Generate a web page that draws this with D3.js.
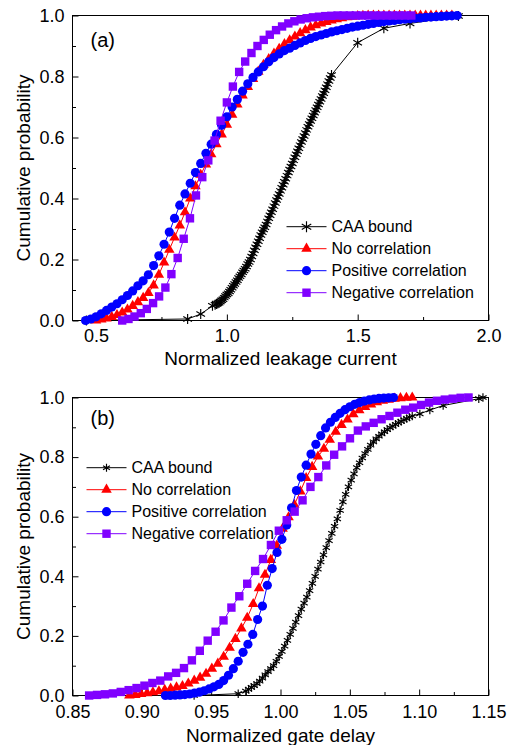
<!DOCTYPE html>
<html><head><meta charset="utf-8">
<script src="https://cdn.jsdelivr.net/npm/d3@7"></script>
<style>
body{margin:0;background:#fff}
svg{display:block}
text{font-family:"Liberation Sans",Arial,sans-serif;fill:#000}
</style>
</head><body>
<svg id="c" width="511" height="745"></svg>
<script>
// ---------------- DATA: panel (a) leakage ----------------
const seriesNames = ["CAA bound", "No correlation", "Positive correlation", "Negative correlation"];

const leakCaa = [
[0.463,0.000],[0.850,0.005],[0.900,0.021],[0.945,0.048],
[0.955,0.052],[0.960,0.054],[0.965,0.056],[0.970,0.058],[0.975,0.062],[0.980,0.066],[0.985,0.070],[0.990,0.075],[0.995,0.080],
[1.000,0.085],[1.005,0.089],[1.010,0.095],[1.015,0.101],[1.020,0.107],[1.025,0.114],[1.030,0.120],[1.035,0.126],[1.040,0.132],
[1.045,0.139],[1.050,0.145],[1.055,0.151],[1.060,0.158],[1.065,0.164],[1.070,0.170],[1.075,0.177],[1.080,0.185],[1.085,0.192],
[1.090,0.200],[1.095,0.210],[1.100,0.220],[1.105,0.230],[1.110,0.240],[1.115,0.250],[1.120,0.260],[1.125,0.270],[1.130,0.280],
[1.135,0.289],[1.140,0.298],[1.145,0.306],[1.150,0.315],[1.155,0.325],[1.160,0.335],[1.165,0.345],[1.170,0.355],[1.175,0.365],
[1.180,0.375],[1.185,0.385],[1.190,0.395],[1.195,0.405],[1.200,0.415],[1.205,0.425],[1.210,0.435],[1.215,0.445],[1.220,0.455],
[1.225,0.465],[1.230,0.475],[1.235,0.485],[1.240,0.495],[1.245,0.505],[1.250,0.515],[1.255,0.525],[1.260,0.535],[1.265,0.545],
[1.270,0.555],[1.275,0.565],[1.280,0.575],[1.285,0.585],[1.290,0.595],[1.295,0.605],[1.300,0.615],[1.305,0.625],[1.310,0.635],
[1.315,0.644],[1.320,0.654],[1.325,0.663],[1.330,0.672],[1.335,0.681],[1.340,0.690],[1.345,0.699],[1.350,0.708],[1.355,0.717],
[1.360,0.726],[1.365,0.736],[1.370,0.745],[1.375,0.755],[1.380,0.765],[1.385,0.775],[1.390,0.785],[1.395,0.795],[1.400,0.805],
[1.500,0.911],[1.600,0.958],[1.700,0.974],[1.885,0.998]
];

const leakNoCorrX = [0.50,0.52,0.54,0.56,0.58,0.60,0.62,0.64,0.66,0.68,0.70,0.72,0.74,0.76,0.78,0.80,0.82,0.84,0.86,0.88,
0.90,0.92,0.94,0.96,0.98,1.00,1.02,1.04,1.06,1.08,1.10,1.12,1.14,1.16,1.18,1.20,1.22,1.24,1.26,1.28,1.30,1.32,1.34,1.36,1.38,
1.40,1.42,1.44,1.46,1.48,1.50,1.52,1.54,1.56,1.58,1.60,1.62,1.64,1.66,1.68,1.70,1.72,1.74,1.76,1.78,1.80,1.82,1.84,1.86];
const leakNoCorrY = [0.000,0.003,0.007,0.012,0.018,0.026,0.036,0.048,0.060,0.074,0.090,0.115,0.150,0.190,0.232,0.272,0.312,0.355,0.400,0.440,
0.478,0.512,0.545,0.578,0.610,0.642,0.675,0.708,0.738,0.766,0.792,0.816,0.838,0.857,0.875,0.891,0.906,0.919,0.931,0.942,0.952,0.961,0.968,0.974,0.979,
0.984,0.988,0.991,0.994,0.996,0.998,0.999,1.000,1.000,1.000,1.000,1.000,1.000,1.000,1.000,1.000,1.000,1.000,1.000,1.000,1.000,1.000,1.000,1.000];

const leakPosX = [0.46,0.48,0.50,0.52,0.54,0.56,0.58,0.60,0.62,0.64,0.66,0.68,0.70,0.72,0.74,0.76,0.78,0.80,0.82,0.84,0.86,0.88,
0.90,0.92,0.94,0.96,0.98,1.00,1.02,1.04,1.06,1.08,1.10,1.12,1.14,1.16,1.18,1.20,1.22,1.24,1.26,1.28,1.30,1.32,1.34,1.36,1.38,
1.40,1.42,1.44,1.46,1.48,1.50,1.52,1.54,1.56,1.58,1.60,1.62,1.64,1.66,1.68,1.70,1.72,1.74,1.76,1.78,1.80,1.82,1.84,1.86,1.88];
const leakPosY = [0.000,0.005,0.012,0.022,0.033,0.044,0.055,0.068,0.082,0.097,0.114,0.130,0.150,0.180,0.212,0.250,0.290,0.335,0.378,0.415,0.450,0.485,
0.515,0.548,0.578,0.610,0.640,0.668,0.700,0.725,0.752,0.776,0.797,0.815,0.832,0.848,0.862,0.874,0.885,0.893,0.902,0.910,0.918,0.925,0.931,0.936,0.941,
0.946,0.950,0.954,0.958,0.962,0.965,0.968,0.971,0.974,0.977,0.980,0.982,0.984,0.986,0.988,0.989,0.991,0.992,0.994,0.995,0.996,0.997,0.998,0.999,1.000];

const leakNegX = [0.600,0.624,0.647,0.671,0.694,0.718,0.741,0.765,0.788,0.812,0.835,0.859,0.882,0.906,0.929,0.953,0.976,1.000,
1.023,1.047,1.070,1.094,1.117,1.141,1.164,1.188,1.211,1.235,1.258,1.282,1.305,1.329,1.352,1.376,1.399,1.423,1.446,1.470,
1.493,1.517,1.540,1.564,1.587,1.611,1.634,1.658,1.681,1.705];
const leakNegY = [0.000,0.005,0.013,0.024,0.038,0.057,0.079,0.108,0.152,0.205,0.268,0.335,0.410,0.470,0.525,0.590,0.655,0.715,
0.767,0.815,0.849,0.877,0.900,0.920,0.937,0.952,0.964,0.974,0.981,0.987,0.991,0.994,0.996,0.998,0.999,1.000,1.000,1.000,
1.000,1.000,1.000,1.000,1.000,1.000,1.000,1.000,1.000,1.000];

// ---------------- DATA: panel (b) gate delay ----------------
const delayCaa = [
[0.9377,0.000],[0.9695,0.006],
[0.975,0.015],[0.977,0.021],[0.979,0.027],[0.981,0.033],[0.983,0.040],[0.985,0.048],[0.987,0.058],[0.989,0.069],[0.991,0.080],
[0.993,0.090],[0.995,0.100],[0.997,0.115],[0.999,0.131],[1.001,0.148],[1.003,0.166],[1.005,0.185],[1.007,0.205],[1.009,0.225],
[1.011,0.246],[1.013,0.268],[1.015,0.290],[1.017,0.310],[1.019,0.330],[1.021,0.352],[1.023,0.376],[1.025,0.400],[1.027,0.424],
[1.029,0.448],[1.031,0.472],[1.033,0.496],[1.035,0.520],[1.037,0.544],[1.039,0.568],[1.041,0.593],[1.043,0.621],[1.045,0.650],
[1.047,0.675],[1.049,0.700],[1.051,0.723],[1.053,0.744],[1.055,0.765],[1.057,0.781],[1.059,0.797],[1.061,0.812],[1.063,0.826],
[1.065,0.840],[1.067,0.851],[1.069,0.861],[1.071,0.870],[1.073,0.878],[1.075,0.885],[1.077,0.892],[1.079,0.899],[1.081,0.904],
[1.083,0.910],[1.085,0.915],[1.087,0.920],[1.089,0.925],[1.091,0.929],[1.093,0.934],[1.095,0.938],
[1.1005,0.945],[1.1077,0.958],[1.1173,0.973],[1.143,0.996],[1.146,1.000]
];

const delayNoCorrX = [0.8910,0.8953,0.8995,0.9038,0.9080,0.9123,0.9165,0.9208,0.9250,0.9293,0.9335,0.9378,0.9420,0.9463,0.9505,
0.9548,0.9590,0.9633,0.9675,0.9718,0.9760,0.9803,0.9845,0.9888,0.9930,0.9973,1.0015,1.0058,1.0100,1.0143,1.0185,1.0228,1.0270,
1.0313,1.0355,1.0398,1.0440,1.0483,1.0525,1.0568,1.0610,1.0653,1.0695,1.0738,1.0780,1.0823,1.0865,1.0908,1.0950];
const delayNoCorrY = [0.000,0.002,0.005,0.008,0.011,0.014,0.019,0.023,0.027,0.032,0.040,0.050,0.060,0.073,0.090,
0.107,0.130,0.160,0.190,0.225,0.261,0.307,0.360,0.405,0.455,0.503,0.560,0.598,0.640,0.685,0.730,0.767,0.802,
0.828,0.858,0.885,0.908,0.926,0.944,0.957,0.968,0.977,0.984,0.989,0.993,0.996,0.998,0.999,1.000];

const delayPosX = [0.9170,0.9205,0.9240,0.9275,0.9310,0.9345,0.9380,0.9415,0.9450,0.9485,0.9520,0.9555,0.9590,0.9625,0.9660,
0.9695,0.9730,0.9765,0.9800,0.9835,0.9870,0.9905,0.9940,0.9975,1.0010,1.0045,1.0080,1.0115,1.0150,1.0185,1.0220,1.0255,1.0290,
1.0325,1.0360,1.0395,1.0430,1.0465,1.0500,1.0535,1.0570,1.0605,1.0640,1.0675,1.0710,1.0745,1.0780,1.0815];
const delayPosY = [0.000,0.000,0.001,0.002,0.003,0.005,0.008,0.011,0.016,0.022,0.029,0.037,0.050,0.068,0.090,
0.115,0.145,0.172,0.205,0.255,0.300,0.370,0.426,0.480,0.524,0.572,0.630,0.688,0.733,0.773,0.810,0.843,0.872,
0.898,0.917,0.933,0.947,0.959,0.969,0.977,0.983,0.988,0.992,0.995,0.997,0.998,0.999,1.000];

const delayNegX = [0.8620,0.8677,0.8734,0.8791,0.8848,0.8905,0.8962,0.9019,0.9076,0.9133,0.9190,0.9247,0.9304,0.9361,0.9418,
0.9475,0.9532,0.9589,0.9646,0.9703,0.9760,0.9817,0.9874,0.9931,0.9988,1.0045,1.0102,1.0159,1.0216,1.0273,1.0330,1.0387,1.0444,
1.0501,1.0558,1.0615,1.0672,1.0729,1.0786,1.0843,1.0900,1.0957,1.1014,1.1071,1.1128,1.1185,1.1242,1.1299,1.1356];
const delayNegY = [0.000,0.002,0.004,0.007,0.012,0.018,0.025,0.033,0.042,0.050,0.064,0.076,0.092,0.118,0.150,
0.184,0.214,0.252,0.295,0.333,0.375,0.418,0.458,0.505,0.553,0.588,0.617,0.655,0.700,0.733,0.772,0.808,0.836,
0.863,0.889,0.903,0.915,0.927,0.938,0.949,0.959,0.966,0.975,0.983,0.989,0.993,0.996,0.999,1.000];

// ---------------- tick labels ----------------
const leakTicks = [0.5, 1.0, 1.5, 2.0];
const leakMinor = [0.75, 1.25, 1.75];
const delayTicks = [0.85, 0.90, 0.95, 1.00, 1.05, 1.10, 1.15];
const delayMinor = [0.875, 0.925, 0.975, 1.025, 1.075, 1.125];
const probTicks = [0, 0.2, 0.4, 0.6, 0.8, 1.0];
const probMinor = [0.1, 0.3, 0.5, 0.7, 0.9];

// ---------------- drawing ----------------
const svg = d3.select('#c');
const colors = ['#000000', '#ff0000', '#0000ff', '#8000ff'];
const markers = ['star', 'triangle', 'circle', 'square'];

function marker(g, type, cx, cy, color, s) {
  if (type === 'circle') {
    g.append('circle').attr('cx', cx).attr('cy', cy).attr('r', 4.6).attr('fill', color);
  } else if (type === 'square') {
    g.append('rect').attr('x', cx - 4.2).attr('y', cy - 4.2).attr('width', 8.4).attr('height', 8.4).attr('fill', color);
  } else if (type === 'triangle') {
    g.append('path').attr('transform', `translate(${cx},${cy})`)
      .attr('d', d3.symbol(d3.symbolTriangle, 48)()).attr('fill', color);
  } else {
    const r = s, a = r * Math.cos(Math.PI / 6), b = r * Math.sin(Math.PI / 6);
    g.append('path')
      .attr('d', `M${cx},${cy - r}L${cx},${cy + r}M${cx - a},${cy - b}L${cx + a},${cy + b}M${cx - a},${cy + b}L${cx + a},${cy - b}`)
      .attr('stroke', color).attr('stroke-width', 1.15).attr('fill', 'none');
  }
}

function panel(p) {
  const L = 72.5, R = 488.5;
  const x = d3.scaleLinear().domain(p.xDomain).range([L, R]);
  const y = d3.scaleLinear().domain([0, 1]).range([p.bottom, p.top]);
  const g = svg.append('g');

  // frame
  g.append('rect').attr('x', L).attr('y', p.top).attr('width', R - L).attr('height', p.bottom - p.top)
    .attr('fill', 'none').attr('stroke', '#000').attr('stroke-width', 1);

  // axes
  const ax = g.append('g').attr('transform', `translate(0,${p.bottom})`)
    .call(d3.axisBottom(x).tickValues(p.xTicks).tickFormat(p.xFmt).tickSizeInner(-6).tickSizeOuter(0).tickPadding(p.xPad));
  const axm = g.append('g').attr('transform', `translate(0,${p.bottom})`)
    .call(d3.axisBottom(x).tickValues(p.xMinor).tickFormat('').tickSizeInner(-3.5).tickSizeOuter(0));
  const ay = g.append('g').attr('transform', `translate(${L},0)`)
    .call(d3.axisLeft(y).tickValues(probTicks).tickFormat(d3.format('.1f')).tickSizeInner(-6).tickSizeOuter(0).tickPadding(8));
  const aym = g.append('g').attr('transform', `translate(${L},0)`)
    .call(d3.axisLeft(y).tickValues(probMinor).tickFormat('').tickSizeInner(-3.5).tickSizeOuter(0));
  [ax, axm, ay, aym].forEach(a => {
    a.select('.domain').remove();
    a.selectAll('line').attr('stroke', '#000');
    a.selectAll('text').attr('font-size', 18).attr('font-family', '"Liberation Sans",Arial,sans-serif').attr('fill', '#000');
  });

  // titles
  g.append('text').attr('x', (L + R) / 2).attr('y', p.bottom + p.titleOff).attr('text-anchor', 'middle')
    .attr('font-size', 19).text(p.xTitle);
  g.append('text').attr('transform', `translate(29.5,${(p.top + p.bottom) / 2}) rotate(-90)`).attr('text-anchor', 'middle')
    .attr('font-size', 19).text('Cumulative probability');
  g.append('text').attr('x', 90.5).attr('y', p.labelY).attr('font-size', 20).text(p.label);

  // series
  p.series.forEach((s, i) => {
    const pts = s.pts ? s.pts : s.x.map((v, k) => [v, s.y[k]]);
    g.append('path').attr('d', d3.line().x(d => x(d[0])).y(d => y(d[1]))(pts))
      .attr('fill', 'none').attr('stroke', colors[i]).attr('stroke-width', 1);
    const mg = g.append('g');
    pts.forEach(d => marker(mg, markers[i], x(d[0]), y(d[1]), colors[i], p.starR));
  });

  // legend
  seriesNames.forEach((name, i) => {
    const yy = p.legY + i * 22;
    g.append('line').attr('x1', p.legX).attr('x2', p.legX + 40).attr('y1', yy).attr('y2', yy)
      .attr('stroke', colors[i]).attr('stroke-width', 1);
    marker(g, markers[i], p.legX + 20, yy, colors[i], p.legStarR);
    g.append('text').attr('x', p.legX + 45).attr('y', yy + 5.7).attr('font-size', 16).text(name);
  });
}

panel({
  xDomain: [0.41, 2.0], top: 15.5, bottom: 320.5,
  xTicks: leakTicks, xMinor: leakMinor, xFmt: d3.format('.1f'), xPad: 8.5, titleOff: 44,
  xTitle: 'Normalized leakage current', label: '(a)', labelY: 47,
  starR: 5, legStarR: 5.5, legX: 286.5, legY: 226.7,
  series: [{pts: leakCaa}, {x: leakNoCorrX, y: leakNoCorrY}, {x: leakPosX, y: leakPosY}, {x: leakNegX, y: leakNegY}]
});

panel({
  xDomain: [0.85, 1.15], top: 397.5, bottom: 695.5,
  xTicks: delayTicks, xMinor: delayMinor, xFmt: d3.format('.2f'), xPad: 10, titleOff: 46,
  xTitle: 'Normalized gate delay', label: '(b)', labelY: 425.3,
  starR: 4.2, legStarR: 4, legX: 86.5, legY: 467.7,
  series: [{pts: delayCaa}, {x: delayNoCorrX, y: delayNoCorrY}, {x: delayPosX, y: delayPosY}, {x: delayNegX, y: delayNegY}]
});
</script>
</body></html>
